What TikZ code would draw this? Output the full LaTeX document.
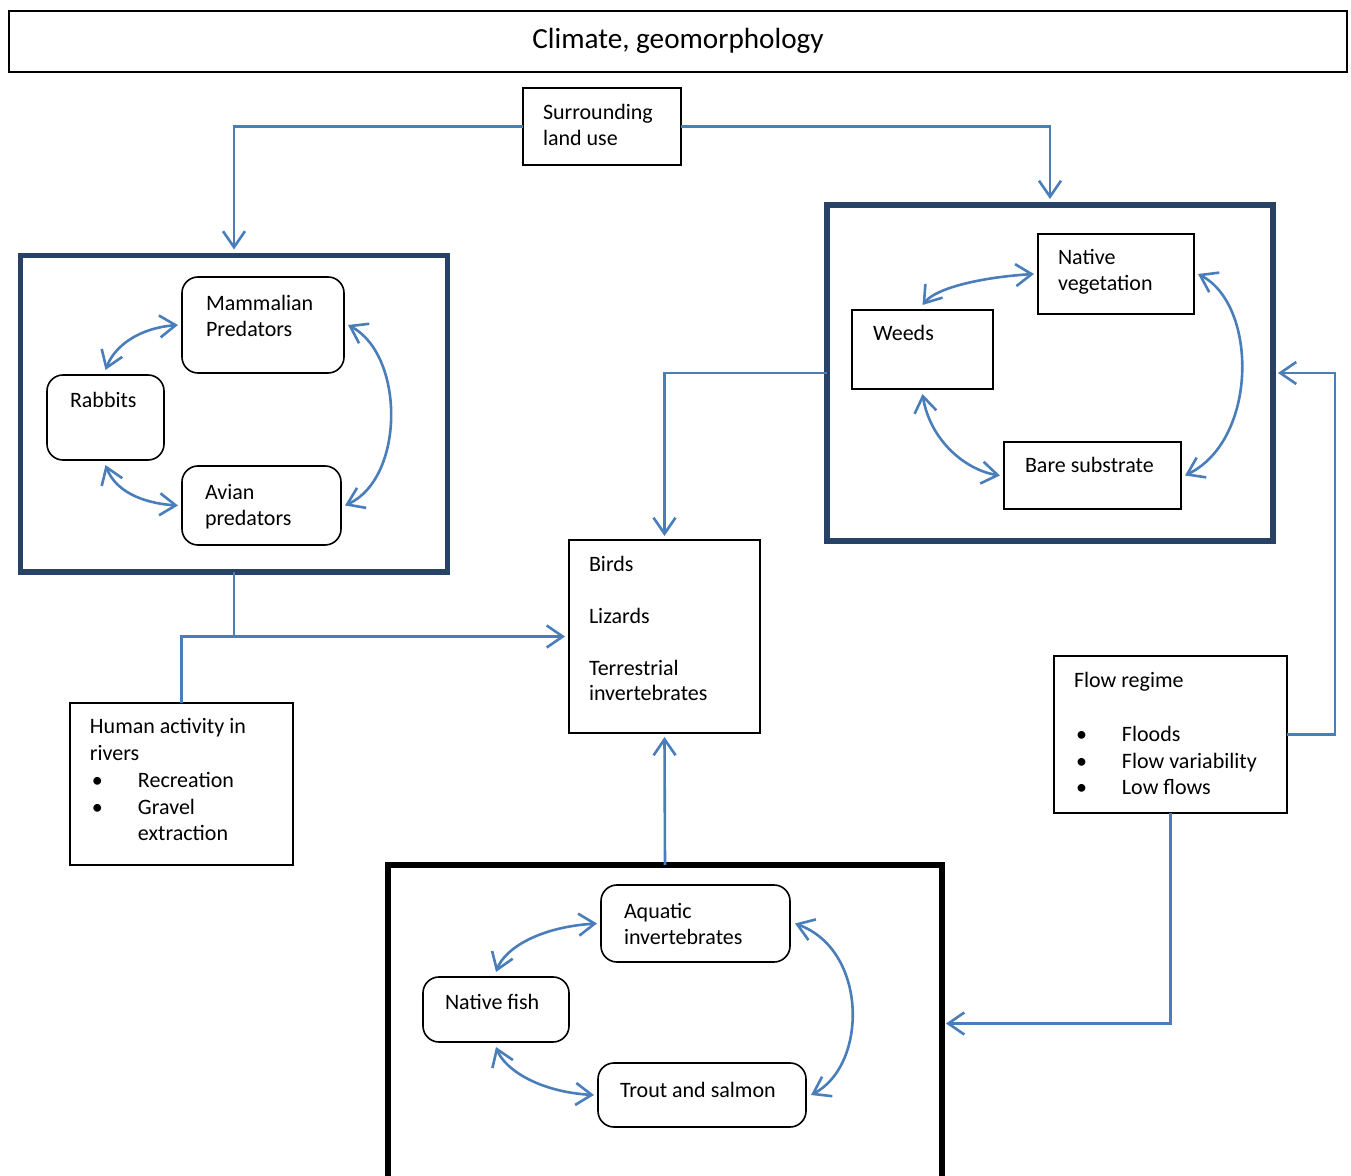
\documentclass[tikz,border=0pt]{standalone}
\usepackage{fontspec}
\setmainfont{Carlito}
\usetikzlibrary{arrows.meta,fit,calc}
\definecolor{conblue}{RGB}{74,126,187}
\definecolor{framenavy}{RGB}{40,66,102}
\newcommand\bulmark{\makebox[24pt][l]{\hspace{1pt}\textbullet}}
\tikzset{vbarb/.tip={Straight Barb[length=8pt,width=11pt]}}
\begin{document}
\begin{tikzpicture}[x=0.5pt,y=-0.5pt,
  every node/.style={inner sep=0pt, outer sep=0pt},
  txt/.style={anchor=base west, align=left, font=\fontsize{11pt}{13pt}\selectfont},
  btxt/.style={anchor=base west, align=left, font=\fontsize{11pt}{13.4pt}\selectfont},
  plainbox/.style={draw=black, line width=0.8pt},
  roundbox/.style={draw=black, line width=0.8pt, rounded corners=8pt},
  frame/.style={draw=framenavy, line width=2.6pt},
  bframe/.style={draw=black, line width=2.6pt},
  conn/.style={draw=conblue, line width=1.3pt, -vbarb},
  connline/.style={draw=conblue, line width=1.3pt},
  dbl/.style={draw=conblue, line width=1.3pt, vbarb-vbarb},
]
\useasboundingbox (0,0) rectangle (1351,1176);
\clip (0,0) rectangle (1351,1176);

% title
\node[draw=black, line width=0.7pt, fit={(9,11) (1347,72)}] (title) {};
\node[anchor=base, font=\fontsize{14.6pt}{17pt}\selectfont] (titlet) at (678,49) {Climate, geomorphology};

% surrounding land use (text anchored at baseline of last line)
\node[plainbox, fit={(523,88) (681,165)}] (slu) {};
\node[txt] (slut) at (543,146) {Surrounding\\land use};

% left frame
\node[frame, fit={(20.5,255.5) (447.5,572)}] (lf) {};
\node[roundbox, fit={(182,277) (344,373)}] (mam) {};
\node[txt] (mamt) at (206,337) {Mammalian\\Predators};
\node[roundbox, fit={(47,375) (164,460)}] (rab) {};
\node[txt] (rabt) at (70,408) {Rabbits};
\node[roundbox, fit={(182,466) (341,545)}] (avi) {};
\node[txt] (avit) at (205,526) {Avian\\predators};

% right frame
\node[frame, fit={(827,205) (1273,541)}] (rf) {};
\node[plainbox, fit={(1038,234) (1194,314)}] (nat) {};
\node[txt] (natt) at (1058,291) {Native\\vegetation};
\node[plainbox, fit={(852,310) (993,389)}] (wee) {};
\node[txt] (weet) at (873,341) {Weeds};
\node[plainbox, fit={(1004,442) (1181,509)}] (bar) {};
\node[txt] (bart) at (1025,473) {Bare substrate};

% birds
\node[plainbox, fit={(569,540) (760,733)}] (birds) {};
\node[txt] (birdst) at (589,701) {Birds\\[13pt]Lizards\\[13pt]Terrestrial\\invertebrates};

% human activity
\node[plainbox, fit={(70,703) (293,865)}] (hum) {};
\node[btxt] (humt) at (90,841) {Human activity in\\rivers\\\bulmark Recreation\\\bulmark Gravel\\\hspace*{24pt}extraction};

% flow regime
\node[plainbox, fit={(1054,656) (1287,813)}] (flow) {};
\node[btxt] (flowt) at (1074,795) {Flow regime\\[13.4pt]\bulmark Floods\\\bulmark Flow variability\\\bulmark Low flows};

% bottom frame
\node[bframe, fit={(388,865) (942,1182)}] (bf) {};
\node[roundbox, fit={(601,885) (790,962)}] (aqu) {};
\node[txt] (aqut) at (624,944) {Aquatic\\invertebrates};
\node[roundbox, fit={(423,977) (569,1042)}] (fish) {};
\node[txt] (fisht) at (445,1009) {Native fish};
\node[roundbox, fit={(598,1063) (806,1127)}] (tro) {};
\node[txt] (trot) at (620,1097) {Trout and salmon};

% straight connectors
\draw[conn] (slu.west) -| ([yshift=3pt]lf.north);
\draw[conn] (slu.east) -| ([yshift=3pt]rf.north);
\draw[conn] (rf.west) -| ([yshift=2pt]birds.north);
\draw[connline] (lf.south) -- (lf.south |- birds.west);
\draw[conn] (hum.north) |- ([xshift=-2pt]birds.west);
\draw[conn] (bf.north) -- ([yshift=-2pt]birds.south);
\draw[conn] (flow.east) -- ++(48,0) |- ([xshift=2.5pt]rf.east);
\draw[conn] (flow.south) |- ([xshift=2pt]bf.east);

% curved double arrows, left
\draw[dbl] ([yshift=2.5pt]rab.north) .. controls (115,345) and (140,328) .. ([xshift=-2pt]mam.west);
\draw[dbl] ([yshift=-2.5pt]rab.south) .. controls (115,490) and (140,503) .. ([xshift=-2pt]avi.west);
\draw[dbl] ([xshift=2pt]mam.east) .. controls (405,355) and (405,478) .. ([xshift=2pt]avi.east);

% right
\draw[dbl] ([yshift=2.5pt]wee.north) .. controls (937,287) and (985,277) .. ([xshift=-2pt]nat.west);
\draw[dbl] ([yshift=-2.5pt]wee.south) .. controls (930,440) and (965,470) .. ([xshift=-2pt]bar.west);
\draw[dbl] ([xshift=2pt]nat.east) .. controls (1258,305) and (1258,440) .. ([xshift=2pt]bar.east);

% bottom
\draw[dbl] ([yshift=2.5pt]fish.north) .. controls (505,948) and (540,927) .. ([xshift=-2pt]aqu.west);
\draw[dbl] ([yshift=-2.5pt]fish.south) .. controls (505,1070) and (540,1092) .. ([xshift=-2pt]tro.west);
\draw[dbl] ([xshift=2.5pt]aqu.east) .. controls (868,950) and (868,1065) .. ([xshift=2.5pt]tro.east);
\end{tikzpicture}
\end{document}
